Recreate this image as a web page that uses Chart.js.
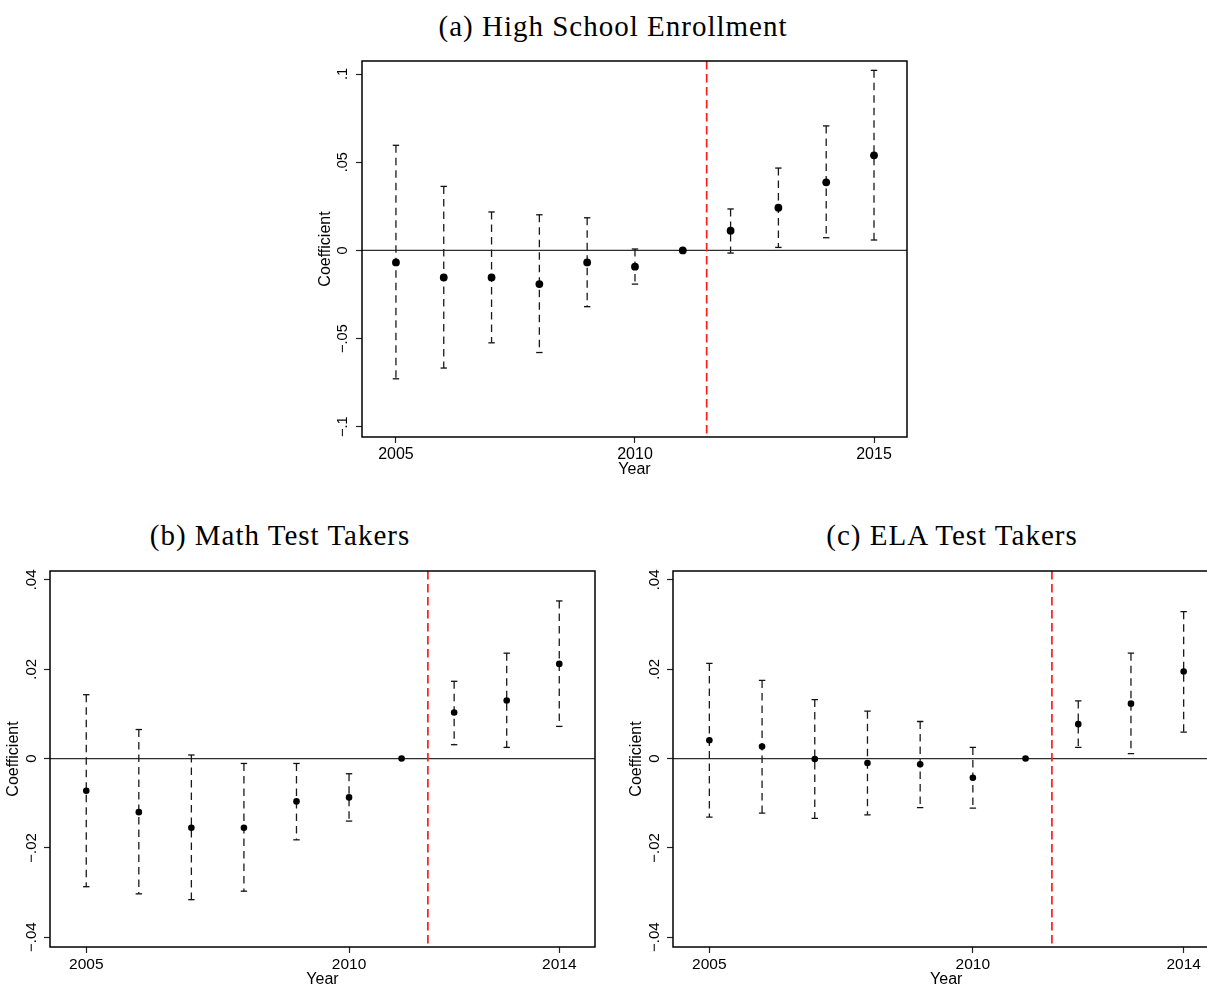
<!DOCTYPE html>
<html>
<head>
<meta charset="utf-8">
<title>Event-study coefficients</title>
<script src="https://cdn.jsdelivr.net/npm/chart.js@4.4.0/dist/chart.umd.min.js"></script>
<style>
  html, body { margin: 0; padding: 0; background: #fff; overflow: hidden; width: 1207px; height: 985px; }
  .panel { position: absolute; }
  .ttl {
    position: absolute; white-space: nowrap; color: #000;
    font-family: "Liberation Serif", "Times New Roman", serif;
    font-size: 29px; line-height: 29px; letter-spacing: 1px;
    transform: translateX(-50%);
  }
</style>
</head>
<body>
<div class="ttl" style="left:613px; top:12px;">(a) High School Enrollment</div>
<div class="ttl" style="left:280px; top:521px;">(b) Math Test Takers</div>
<div class="ttl" style="left:952px; top:521px;">(c) ELA Test Takers</div>

<div class="panel" style="left:300px; top:45px;"><canvas id="chartHS" width="620" height="434"></canvas></div>
<div class="panel" style="left:0px; top:555px;"><canvas id="chartMath" width="610" height="434"></canvas></div>
<div class="panel" style="left:620px; top:555px;"><canvas id="chartELA" width="610" height="434"></canvas></div>

<script>
// ---- (a) High school enrollment: year coefficients and 95% CI ----
const hsYears = [2005, 2006, 2007, 2008, 2009, 2010, 2011, 2012, 2013, 2014, 2015];
const hsCoef  = [-0.0068, -0.0153, -0.0153, -0.0191, -0.0068, -0.0092, 0, 0.0112, 0.0242, 0.0386, 0.0539];
const hsHigh  = [0.0596, 0.0363, 0.0218, 0.0202, 0.0185, 0.0008, null, 0.0235, 0.0467, 0.0706, 0.1021];
const hsLow   = [-0.0728, -0.0667, -0.0524, -0.0579, -0.0319, -0.0191, null, -0.0015, 0.0017, 0.0072, 0.0059];
const hsXTicks = [2005, 2010, 2015];
const hsYTicks = [-0.1, -0.05, 0, 0.05, 0.1];
const hsYTickLabels = ["\u2212.1", "\u2212.05", "0", ".05", ".1"];

// ---- (b) Math test takers ----
const testYears = [2005, 2006, 2007, 2008, 2009, 2010, 2011, 2012, 2013, 2014];
const mathCoef = [-0.0072, -0.0120, -0.0155, -0.0155, -0.0096, -0.0087, 0, 0.0103, 0.0130, 0.0212];
const mathHigh = [0.0143, 0.0065, 0.0008, -0.0011, -0.0011, -0.0034, null, 0.0173, 0.0236, 0.0353];
const mathLow  = [-0.0287, -0.0303, -0.0316, -0.0297, -0.0182, -0.0140, null, 0.0031, 0.0025, 0.0072];

// ---- (c) ELA test takers ----
const elaCoef = [0.0041, 0.0027, -0.0001, -0.0010, -0.0013, -0.0043, 0, 0.0077, 0.0123, 0.0195];
const elaHigh = [0.0213, 0.0175, 0.0132, 0.0106, 0.0083, 0.0025, null, 0.0129, 0.0236, 0.0329];
const elaLow  = [-0.0131, -0.0122, -0.0134, -0.0126, -0.0110, -0.0111, null, 0.0025, 0.0011, 0.0059];

const testXTicks = [2005, 2010, 2014];
const testYTicks = [-0.04, -0.02, 0, 0.02, 0.04];
const testYTickLabels = ["\u2212.04", "\u2212.02", "0", ".02", ".04"];

// Policy cutoff drawn as the red dashed line
const policyCutoff = 2011.5;

const SANS = '"Liberation Sans", Arial, Helvetica, sans-serif';

// Reference lines: solid zero line and red dashed cutoff
const refLinesPlugin = {
  id: 'refLines',
  beforeDatasetsDraw(chart) {
    const { ctx, chartArea: a, scales: { x, y } } = chart;
    ctx.save();
    const y0 = y.getPixelForValue(0);
    ctx.strokeStyle = '#2e2e2e';
    ctx.lineWidth = 1.2;
    ctx.beginPath();
    ctx.moveTo(a.left, y0);
    ctx.lineTo(a.right, y0);
    ctx.stroke();

    const xc = x.getPixelForValue(policyCutoff);
    ctx.strokeStyle = 'rgb(255, 28, 28)';
    ctx.lineWidth = 1.7;
    ctx.setLineDash([8.5, 4.5]);
    ctx.beginPath();
    ctx.moveTo(xc, a.top);
    ctx.lineTo(xc, a.bottom);
    ctx.stroke();
    ctx.restore();
  }
};

// Frame around the plot region
const framePlugin = {
  id: 'frame',
  afterDatasetsDraw(chart) {
    const { ctx, chartArea: a } = chart;
    ctx.save();
    ctx.strokeStyle = '#000';
    ctx.lineWidth = 1.5;
    ctx.strokeRect(a.left, a.top, a.right - a.left, a.bottom - a.top);
    ctx.restore();
  }
};

// Vertical-axis tick labels written sideways (reading upwards)
const sidewaysYLabels = {
  id: 'sidewaysYLabels',
  afterDraw(chart, args, opts) {
    const { ctx, chartArea: a, scales: { y } } = chart;
    ctx.save();
    ctx.fillStyle = '#000';
    ctx.font = opts.size + 'px ' + SANS;
    ctx.textAlign = 'center';
    ctx.textBaseline = 'alphabetic';
    y.ticks.forEach(t => {
      const i = opts.values.indexOf(t.value);
      if (i < 0) return;
      const py = y.getPixelForValue(t.value);
      ctx.save();
      ctx.translate(a.left - opts.offset, py);
      ctx.rotate(-Math.PI / 2);
      ctx.fillText(opts.labels[i], 0, 0);
      ctx.restore();
    });
    ctx.restore();
  }
};

function buildPanel(id, p) {
  // one dashed capped segment per year with a confidence interval
  const ciSets = [];
  p.years.forEach((yr, i) => {
    if (p.high[i] === null || p.low[i] === null) return;
    ciSets.push({
      type: 'line',
      data: [{ x: yr, y: p.high[i] }, { x: yr, y: p.low[i] }],
      borderColor: '#1a1a1a',
      borderWidth: 1.3,
      borderDash: [7.5, 5],
      fill: false,
      tension: 0,
      pointStyle: 'line',
      pointRadius: 3.2,
      pointHoverRadius: 3.2,
      pointBorderWidth: 1.3,
      pointBorderColor: '#111',
      pointBackgroundColor: '#111'
    });
  });

  const coefSet = {
    type: 'scatter',
    data: p.years.map((yr, i) => ({ x: yr, y: p.coef[i] })),
    pointStyle: 'circle',
    pointRadius: p.dot,
    pointHoverRadius: p.dot,
    pointBackgroundColor: '#000',
    pointBorderColor: '#000',
    pointBorderWidth: 0
  };

  const tickGrid = {
    drawOnChartArea: false,
    drawTicks: true,
    tickLength: 6,
    tickColor: '#222',
    tickWidth: 1.2
  };

  return new Chart(document.getElementById(id), {
    type: 'scatter',
    data: { datasets: [coefSet, ...ciSets] },
    options: {
      responsive: false,
      animation: false,
      devicePixelRatio: 1,
      events: [],
      layout: { padding: { left: p.padL, right: p.padR, top: 16, bottom: 0 } },
      plugins: {
        legend: { display: false },
        tooltip: { enabled: false },
        sidewaysYLabels: { values: p.yTicks, labels: p.yLabels, size: p.yLabelSize, offset: p.yLabelOffset }
      },
      scales: {
        x: {
          type: 'linear',
          min: p.xMin,
          max: p.xMax,
          afterBuildTicks: s => { s.ticks = p.xTicks.map(v => ({ value: v })); },
          afterFit: s => { s.height = 42; },
          grid: tickGrid,
          border: { display: false },
          ticks: {
            autoSkip: false, maxRotation: 0, minRotation: 0, padding: 2,
            color: '#000', font: { family: SANS, size: p.xLabelSize },
            callback: v => String(v)
          },
          title: { display: true, text: 'Year', color: '#000', padding: 0, font: { family: SANS, size: 16 } }
        },
        y: {
          type: 'linear',
          min: p.yMin,
          max: p.yMax,
          afterBuildTicks: s => { s.ticks = p.yTicks.map(v => ({ value: v })); },
          afterFit: s => { s.width = 46; },
          grid: tickGrid,
          border: { display: false },
          ticks: { display: false },
          title: { display: true, text: 'Coefficient', color: '#000', padding: 0, font: { family: SANS, size: 16 } }
        }
      }
    },
    plugins: [refLinesPlugin, framePlugin, sidewaysYLabels]
  });
}

buildPanel('chartHS', {
  years: hsYears, coef: hsCoef, high: hsHigh, low: hsLow,
  xTicks: hsXTicks, yTicks: hsYTicks, yLabels: hsYTickLabels,
  xMin: 2004.29, xMax: 2015.69, yMin: -0.1058, yMax: 0.1074,
  padL: 16, padR: 13, dot: 3.9, xLabelSize: 16, yLabelSize: 14.5, yLabelOffset: 15
});

buildPanel('chartMath', {
  years: testYears, coef: mathCoef, high: mathHigh, low: mathLow,
  xTicks: testXTicks, yTicks: testYTicks, yLabels: testYTickLabels,
  xMin: 2004.31, xMax: 2014.68, yMin: -0.0422, yMax: 0.0420,
  padL: 4, padR: 15, dot: 3.3, xLabelSize: 15.5, yLabelSize: 15, yLabelOffset: 14
});

buildPanel('chartELA', {
  years: testYears, coef: elaCoef, high: elaHigh, low: elaLow,
  xTicks: testXTicks, yTicks: testYTicks, yLabels: testYTickLabels,
  xMin: 2004.31, xMax: 2014.68, yMin: -0.0422, yMax: 0.0420,
  padL: 7, padR: 10.5, dot: 3.3, xLabelSize: 15.5, yLabelSize: 15, yLabelOffset: 14
});
</script>
</body>
</html>
